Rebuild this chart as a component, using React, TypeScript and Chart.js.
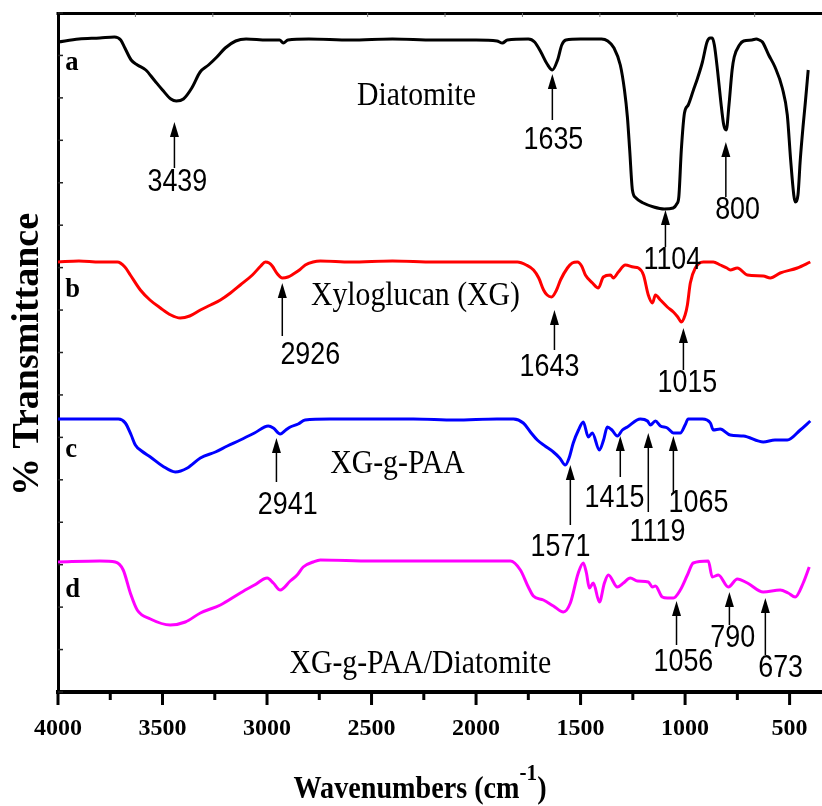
import React, { useEffect, useRef } from 'react';
import { Chart, registerables } from 'chart.js';

Chart.register(...registerables);

// ---- Data (wavenumber in cm-1, offset % transmittance in arbitrary units) ----
const WAVE_A = [4000,3900,3800,3730,3700,3680,3650,3620,3580,3540,3500,3460,3434,3400,3360,3320,3280,3240,3200,3150,3100,3000,2940,2922,2900,2800,2600,2400,2200,2000,1900,1874,1850,1750,1720,1690,1660,1635,1610,1590,1570,1500,1400,1370,1340,1310,1290,1276,1265,1252,1235,1200,1150,1100,1057,1040,1030,1018,1003,985,960,940,917,895,880,870,860,845,830,815,803,790,775,765,740,720,680,660,645,630,600,570,535,511,495,480,473,460,449,435,425,411];
const T_A = [65.0,65.3,65.4,65.5,65.2,64.4,63.2,62.7,62.2,61.2,60.2,59.3,59.1,59.3,60.4,62.0,62.7,63.5,64.4,65.1,65.3,65.2,65.2,64.9,65.2,65.3,65.2,65.3,65.2,65.2,65.1,64.9,65.2,65.3,65.0,64.0,62.8,62.2,63.2,64.7,65.2,65.3,65.3,65.1,64.4,62.7,60.2,57.5,54.2,50.2,49.4,48.9,48.5,48.3,48.4,48.8,49.5,54.2,57.9,58.7,60.2,61.4,63.0,65.0,65.4,65.4,64.7,62.2,59.2,56.7,56.2,58.7,62.2,63.5,64.7,65.1,65.2,65.3,65.2,65.0,63.7,62.5,60.4,57.7,53.2,49.7,49.0,49.7,53.2,56.7,58.9,62.2];

const WAVE_B = [4000,3900,3800,3716,3680,3654,3606,3560,3510,3460,3415,3370,3319,3270,3223,3175,3128,3070,3030,3008,2990,2975,2950,2927,2900,2874,2845,2817,2780,2745,2600,2400,2200,2000,1900,1802,1760,1725,1700,1677,1660,1639,1615,1596,1563,1540,1515,1495,1477,1443,1415,1391,1357,1343,1319,1286,1247,1223,1199,1176,1156,1142,1118,1085,1056,1035,1018,1000,989,975,951,913,865,832,800,784,750,702,626,592,545,463,401];
const T_B = [43.0,43.1,43.0,43.0,42.5,41.7,40.2,39.2,38.4,37.7,37.4,37.6,38.2,38.7,39.2,39.9,40.7,41.7,42.6,43.0,42.9,42.6,41.8,41.4,41.5,41.8,42.2,42.7,43.0,43.1,43.0,43.1,43.0,43.0,43.0,43.0,42.7,42.2,41.4,40.2,39.7,39.5,40.2,41.2,42.4,42.9,43.0,42.6,41.7,40.9,40.4,41.5,41.7,41.4,42.0,42.7,42.5,42.4,41.7,39.7,38.9,39.7,39.2,38.5,38.0,37.5,37.0,37.7,38.7,40.9,42.4,43.0,43.0,42.7,42.4,42.2,42.4,41.7,41.6,41.4,41.9,42.4,43.0];

const WAVE_C = [4000,3800,3711,3678,3650,3630,3600,3558,3500,3439,3381,3319,3247,3190,3128,3060,2994,2970,2937,2910,2889,2851,2818,2700,2500,2300,2100,1900,1821,1774,1740,1707,1670,1630,1600,1573,1555,1535,1510,1487,1463,1444,1410,1390,1372,1350,1324,1300,1276,1214,1180,1166,1142,1118,1085,1056,1023,1000,985,917,879,865,832,784,721,626,570,511,449,401];
const T_C = [27.3,27.3,27.3,26.9,25.7,24.7,24.1,23.5,22.6,22.0,22.4,23.4,24.0,24.6,25.2,25.9,26.6,26.4,25.8,26.2,26.5,26.8,27.2,27.3,27.3,27.3,27.2,27.3,27.3,26.9,26.0,25.2,24.6,24.0,23.4,22.7,23.4,24.9,26.2,27.0,25.5,25.9,24.2,25.2,26.5,26.2,25.6,26.2,26.5,27.3,27.1,26.7,27.1,26.6,26.4,25.9,25.9,26.7,27.3,27.3,26.9,26.2,26.3,25.7,25.6,25.0,25.2,25.2,26.2,27.1];

const WAVE_D = [4000,3800,3726,3688,3654,3621,3558,3463,3391,3319,3223,3128,3060,2999,2970,2937,2889,2856,2827,2779,2745,2500,2200,2000,1836,1788,1750,1726,1678,1630,1582,1549,1511,1487,1472,1458,1439,1410,1386,1367,1324,1295,1262,1228,1176,1156,1142,1109,1085,1056,1023,989,961,889,870,841,793,750,702,626,545,507,473,435,406];
const T_D = [13.0,13.1,13.0,12.2,9.9,8.2,7.3,6.7,7.0,7.9,8.7,9.9,10.7,11.4,10.9,10.2,11.1,11.7,12.5,13.0,13.2,13.1,13.1,13.1,13.1,12.2,10.5,9.6,9.2,8.6,8.0,8.9,11.9,12.9,11.9,10.4,10.9,9.0,10.9,11.7,10.5,10.9,11.4,11.1,11.0,10.5,10.6,9.5,9.4,9.4,10.2,11.7,12.9,13.1,11.5,11.7,10.5,11.3,10.9,10.0,10.2,9.9,9.5,10.9,12.5];

const SERIES_NAMES = ['Diatomite', 'Xyloglucan (XG)', 'XG-g-PAA', 'XG-g-PAA/Diatomite'];
const SERIES_COLORS = ['#000000', '#ff0000', '#0000ff', '#ff00ff'];
const NAME_WAVE = [2285, 2290, 2376, 2267];
const NAME_VAL = [58.7, 38.7, 21.9, 1.9];
const SERIES_LETTERS = ['a', 'b', 'c', 'd'];
const LETTER_WAVE = 3965;
const LETTER_VAL = [62.2, 39.5, 23.5, 9.5];

// Peak annotations: [label, arrow wavenumber, arrow tip, arrow tail, label wavenumber, label value]
const PEAKS: [string, number, number, number, number, number][] = [
  ['3439', 3443, 57.0, 52.4, 3429, 51.0],
  ['1635', 1635, 61.8, 57.2, 1630, 55.2],
  ['1104', 1094, 48.2, 44.5, 1061, 43.2],
  ['800', 805, 55.0, 49.5, 749, 48.2],
  ['2926', 2927, 40.9, 35.6, 2793, 33.7],
  ['1643', 1625, 38.2, 34.2, 1649, 32.5],
  ['1015', 1008, 36.4, 32.2, 989, 30.9],
  ['2941', 2955, 25.4, 21.0, 2901, 18.7],
  ['1571', 1549, 22.7, 16.7, 1596, 14.5],
  ['1415', 1310, 25.6, 21.5, 1338, 19.4],
  ['1119', 1176, 25.9, 18.0, 1132, 16.0],
  ['1065', 1056, 25.6, 19.9, 936, 18.9],
  ['1056', 1041, 9.1, 4.7, 1008, 3.0],
  ['790', 788, 10.0, 6.7, 772, 5.4],
  ['673', 616, 9.4, 3.7, 543, 2.4],
];

const X_TICKS = [4000, 3750, 3500, 3250, 3000, 2750, 2500, 2250, 2000, 1750, 1500, 1250, 1000, 750, 500];
const X_LABELED = [4000, 3500, 3000, 2500, 2000, 1500, 1000, 500];
const Y_MAX = 67.9;
const Y_TICKS = Array.from({ length: 17 }, (_, i) => (Y_MAX * i) / 16);
const TOP_TICKS = [1, 2, 3, 4, 5, 6, 7, 8, 9];

const X_TITLE = 'Wavenumbers (cm';
const X_TITLE_SUP = '-1';
const X_TITLE_END = ')';
const Y_TITLE = '% Transmittance';

const SERIF = '"Liberation Serif", "Times New Roman", serif';
const SANS = '"Liberation Sans", Arial, sans-serif';

function drawText(ctx: CanvasRenderingContext2D, s: string, x: number, y: number, font: string, sx: number, align: CanvasTextAlign, baseline: CanvasTextBaseline) {
  ctx.save();
  ctx.font = font;
  ctx.textAlign = align;
  ctx.textBaseline = baseline;
  ctx.fillStyle = '#000';
  ctx.translate(x, y);
  ctx.scale(sx, 1);
  ctx.fillText(s, 0, 0);
  ctx.restore();
}

const decorations = {
  id: 'decorations',
  afterDraw(chart: any) {
    const { ctx, chartArea: ca, scales } = chart;
    const xs = scales.x, ys = scales.y, xt = scales.xTop;
    ctx.save();
    ctx.strokeStyle = '#000';
    ctx.lineCap = 'butt';

    // top frame line
    ctx.lineWidth = 3;
    ctx.beginPath();
    ctx.moveTo(ca.left - 1.5, ca.top + 0.5);
    ctx.lineTo(ca.right, ca.top + 0.5);
    ctx.stroke();

    // bottom ticks (outward)
    ctx.lineWidth = 3;
    X_TICKS.forEach((v) => {
      const px = xs.getPixelForValue(v);
      const len = X_LABELED.includes(v) ? 13 : 8;
      ctx.beginPath();
      ctx.moveTo(px, ca.bottom);
      ctx.lineTo(px, ca.bottom + len);
      ctx.stroke();
    });

    // left ticks (inward)
    ctx.lineWidth = 1.5;
    ctx.strokeStyle = '#222';
    Y_TICKS.forEach((v) => {
      const py = ys.getPixelForValue(v);
      ctx.beginPath();
      ctx.moveTo(ca.left, py);
      ctx.lineTo(ca.left + 5, py);
      ctx.stroke();
    });

    // top ticks (inward, faint)
    ctx.lineWidth = 1;
    ctx.strokeStyle = '#777';
    TOP_TICKS.forEach((v) => {
      const px = xt.getPixelForValue(v);
      ctx.beginPath();
      ctx.moveTo(px, ca.top);
      ctx.lineTo(px, ca.top + 4);
      ctx.stroke();
    });

    // peak arrows + labels
    ctx.strokeStyle = '#000';
    ctx.fillStyle = '#000';
    PEAKS.forEach(([label, w, tip, tail, lw, lv]) => {
      const px = xs.getPixelForValue(w);
      const tipY = ys.getPixelForValue(tip);
      const tailY = ys.getPixelForValue(tail);
      ctx.lineWidth = 1.5;
      ctx.beginPath();
      ctx.moveTo(px, tailY);
      ctx.lineTo(px, tipY + 10);
      ctx.stroke();
      ctx.beginPath();
      ctx.moveTo(px, tipY);
      ctx.lineTo(px - 4.5, tipY + 15);
      ctx.lineTo(px + 4.5, tipY + 15);
      ctx.closePath();
      ctx.fill();
      drawText(ctx, label, xs.getPixelForValue(lw), ys.getPixelForValue(lv), `32px ${SANS}`, 0.84, 'center', 'middle');
    });

    // series names
    SERIES_NAMES.forEach((n, i) => {
      drawText(ctx, n, xs.getPixelForValue(NAME_WAVE[i]), ys.getPixelForValue(NAME_VAL[i]), `34px ${SERIF}`, 0.875, 'center', 'alphabetic');
    });
    // series letters
    SERIES_LETTERS.forEach((l, i) => {
      drawText(ctx, l, xs.getPixelForValue(LETTER_WAVE), ys.getPixelForValue(LETTER_VAL[i]), `bold 28px ${SERIF}`, 0.95, 'left', 'alphabetic');
    });

    // x axis title with superscript
    const sx = 0.88;
    const mainFont = `bold 32px ${SERIF}`;
    const supFont = `bold 24px ${SERIF}`;
    ctx.font = mainFont;
    const w1 = ctx.measureText(X_TITLE).width * sx;
    const w3 = ctx.measureText(X_TITLE_END).width * sx;
    ctx.font = supFont;
    const w2 = ctx.measureText(X_TITLE_SUP).width * sx;
    const cx = ca.left + 362;
    const start = cx - (w1 + w2 + w3) / 2;
    const base = ca.bottom + 106;
    drawText(ctx, X_TITLE, start, base, mainFont, sx, 'left', 'alphabetic');
    drawText(ctx, X_TITLE_SUP, start + w1, base - 18, supFont, sx, 'left', 'alphabetic');
    drawText(ctx, X_TITLE_END, start + w1 + w2, base, mainFont, sx, 'left', 'alphabetic');

    // y axis title
    ctx.save();
    ctx.translate(ca.left - 30, (ca.top + ca.bottom) / 2 + 2);
    ctx.rotate(-Math.PI / 2);
    ctx.font = `bold 38px ${SERIF}`;
    ctx.textAlign = 'center';
    ctx.textBaseline = 'middle';
    ctx.fillStyle = '#000';
    ctx.fillText(Y_TITLE, 0, 0);
    ctx.restore();

    ctx.restore();
  },
};

export default function App() {
  const ref = useRef<HTMLCanvasElement>(null);
  useEffect(() => {
    const waves = [WAVE_A, WAVE_B, WAVE_C, WAVE_D];
    const vals = [T_A, T_B, T_C, T_D];
    const chart = new Chart(ref.current as HTMLCanvasElement, {
      type: 'line',
      data: {
        datasets: SERIES_NAMES.map((name, i) => ({
          label: name,
          data: waves[i].map((w, j) => ({ x: w, y: vals[i][j] })),
          borderColor: SERIES_COLORS[i],
          backgroundColor: SERIES_COLORS[i],
          borderWidth: 3,
          pointRadius: 0,
          fill: false,
          cubicInterpolationMode: 'monotone' as const,
        })),
      },
      options: {
        animation: false,
        responsive: false,
        devicePixelRatio: 1,
        layout: { padding: { top: 13, left: 0, right: 0, bottom: 0 } },
        plugins: { legend: { display: false }, tooltip: { enabled: false } },
        scales: {
          x: {
            type: 'linear',
            position: 'bottom',
            reverse: true,
            min: 345,
            max: 4000,
            afterBuildTicks: (s: any) => { s.ticks = X_TICKS.map((v) => ({ value: v })); },
            afterFit: (s: any) => { s.height = 114; s.paddingLeft = 0; s.paddingRight = 0; },
            grid: { display: false, drawTicks: false },
            border: { display: true, color: '#000', width: 4 },
            ticks: {
              autoSkip: false,
              maxRotation: 0,
              padding: 22,
              color: '#000',
              font: { family: SERIF, size: 24, weight: 'bold' },
              callback: (v: any) => (X_LABELED.includes(Number(v)) ? String(v) : ''),
            },
          },
          xTop: {
            type: 'linear',
            position: 'top',
            min: 0,
            max: 9.87,
            afterBuildTicks: (s: any) => { s.ticks = TOP_TICKS.map((v) => ({ value: v })); },
            afterFit: (s: any) => { s.height = 0; s.paddingLeft = 0; s.paddingRight = 0; },
            grid: { display: false, drawTicks: false },
            border: { display: false },
            ticks: { display: false },
          },
          y: {
            type: 'linear',
            position: 'left',
            min: 0,
            max: Y_MAX,
            afterBuildTicks: (s: any) => { s.ticks = Y_TICKS.map((v) => ({ value: v })); },
            afterFit: (s: any) => { s.width = 58; s.paddingTop = 0; s.paddingBottom = 0; },
            grid: { display: false, drawTicks: false },
            border: { display: true, color: '#000', width: 3 },
            ticks: { display: false },
          },
        },
      } as any,
      plugins: [decorations],
    });
    return () => chart.destroy();
  }, []);
  return (
    <canvas
      ref={ref}
      width={822}
      height={806}
      style={{ position: 'absolute', left: 0, top: 0, width: 822, height: 806 }}
    />
  );
}
